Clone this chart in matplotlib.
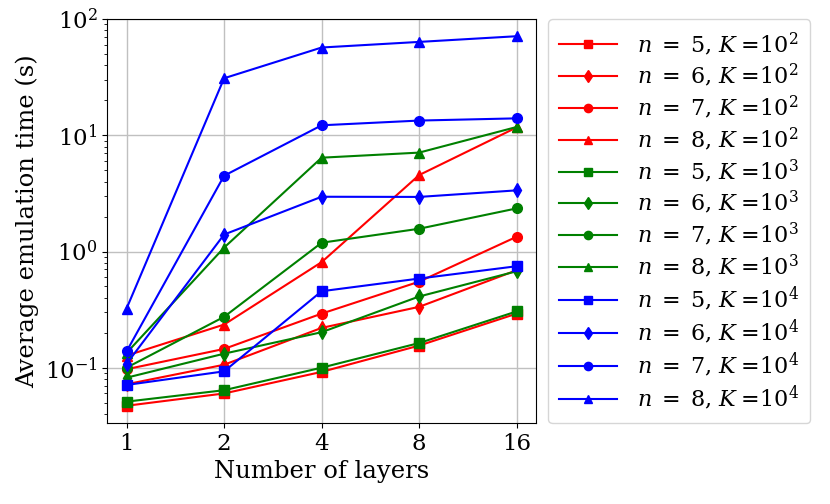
import matplotlib
matplotlib.use("Agg")
import matplotlib.pyplot as plt
from matplotlib.ticker import NullFormatter

layers = [1, 2, 4, 8, 16]
n_values = [5, 6, 7, 8]
k_exps = [2, 3, 4]

# average emulation time (s)
times = {
    (5, 2): [0.047, 0.060, 0.092, 0.155, 0.292],
    (6, 2): [0.072, 0.106, 0.220, 0.334, 0.690],
    (7, 2): [0.097, 0.145, 0.292, 0.550, 1.34],
    (8, 2): [0.127, 0.235, 0.810, 4.55, 11.7],
    (5, 3): [0.051, 0.064, 0.100, 0.163, 0.305],
    (6, 3): [0.082, 0.132, 0.202, 0.410, 0.676],
    (7, 3): [0.100, 0.274, 1.19, 1.57, 2.35],
    (8, 3): [0.134, 1.08, 6.42, 7.10, 11.8],
    (5, 4): [0.071, 0.093, 0.455, 0.585, 0.747],
    (6, 4): [0.108, 1.40, 2.96, 2.95, 3.36],
    (7, 4): [0.138, 4.49, 12.2, 13.4, 14.0],
    (8, 4): [0.323, 31.0, 57.0, 63.7, 71.3],
}

colors = {2: "red", 3: "green", 4: "blue"}
markers = {5: "s", 6: "d", 7: "o", 8: "^"}

plt.rcParams["font.family"] = "DejaVu Serif"
plt.rcParams["mathtext.fontset"] = "dejavuserif"

fig = plt.figure(figsize=(8.3, 5.04), dpi=100)
ax = fig.add_axes([0.129, 0.161, 0.517, 0.801])

for k in k_exps:
    for n in n_values:
        ax.plot(layers, times[(n, k)], color=colors[k], marker=markers[n],
                markersize=7, linewidth=1.5,
                label=r"$n\;=\;%d$, $K\;$=$10^{%d}$" % (n, k))

ax.set_xscale("log", base=2)
ax.set_yscale("log")
ax.set_xticks(layers)
ax.set_xticklabels([str(l) for l in layers])
ax.xaxis.set_minor_formatter(NullFormatter())
ax.set_ylim(0.0335, 100)
ax.grid(True, which="major", color="#c0c0c0", linewidth=1)
ax.tick_params(labelsize=16.5)
ax.set_xlabel("Number of layers", fontsize=17.5)
ax.set_ylabel("Average emulation time (s)", fontsize=17.5)

ax.legend(loc="upper left", bbox_to_anchor=(1.028, 1.0), borderaxespad=0,
          fontsize=16, labelspacing=0.2, handlelength=2.6,
          handletextpad=0.9, borderpad=0.5, markerscale=0.85)

fig.savefig("out.png", dpi=100)
